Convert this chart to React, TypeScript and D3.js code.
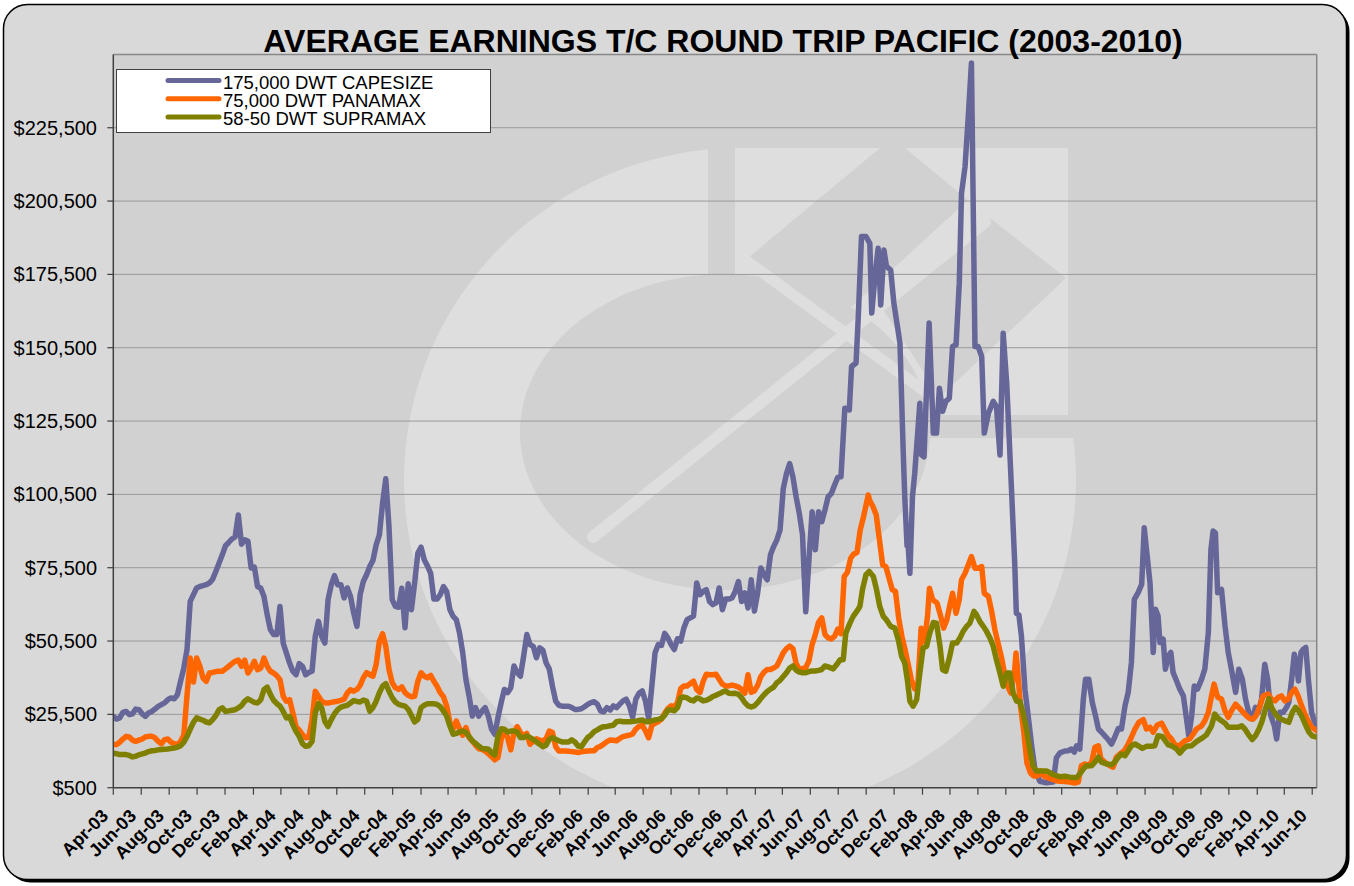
import React from "react";
import * as d3 from "d3";

const TITLE = "AVERAGE EARNINGS T/C ROUND TRIP PACIFIC (2003-2010)";
const SERIES_NAMES = ["175,000 DWT CAPESIZE", "75,000 DWT PANAMAX", "58-50 DWT SUPRAMAX"];
const SERIES_COLORS = ["#666699", "#FF6600", "#808000"];
const START_DATE = "2003-04-01";
const END_WEEK = 375.4;
const X_TICK_LABELS = ["Apr-03","Jun-03","Aug-03","Oct-03","Dec-03","Feb-04","Apr-04","Jun-04","Aug-04","Oct-04","Dec-04","Feb-05","Apr-05","Jun-05","Aug-05","Oct-05","Dec-05","Feb-06","Apr-06","Jun-06","Aug-06","Oct-06","Dec-06","Feb-07","Apr-07","Jun-07","Aug-07","Oct-07","Dec-07","Feb-08","Apr-08","Jun-08","Aug-08","Oct-08","Dec-08","Feb-09","Apr-09","Jun-09","Aug-09","Oct-09","Dec-09","Feb-10","Apr-10","Jun-10"];
const Y_TICKS = [500, 25500, 50500, 75500, 100500, 125500, 150500, 175500, 200500, 225500];
const Y_MIN = 500;
const Y_MAX = 250500;

// [week since START_DATE, US$ per day]
const CAPESIZE: [number, number][] = [
[0,24800],[1,23900],[2,24300],[3,26200],[4,26500],[5,25400],[6,25700],[7,27300],[8,27100],[9,25700],[10,24800],[11,26000],[12,26500],[13,27300],[14,28200],[15,28800],[16,29400],[17,30500],[18,31100],[19,30800],[20,32200],[21,36800],[22,41300],[23,47600],[24,64000],[25,66300],[26,68600],[27,69100],[28,69400],[29,69700],[30,70300],[31,71600],[32,74300],[33,77100],[34,79900],[35,83000],[36,84100],[37,85300],[38,86000],[39,93500],[40,83500],[41,85000],[42,84500],[43,75400],[44,75700],[45,69100],[46,68500],[47,65700],[48,59500],[49,54400],[50,52700],[51,52700],[52,62300],[53,49800],[54,46400],[55,43000],[56,40200],[57,39000],[58,42800],[59,41900],[60,39000],[61,39800],[62,40200],[63,52100],[64,57200],[65,52100],[66,49800],[67,64600],[68,69700],[69,72800],[70,69700],[71,69700],[72,65200],[73,68600],[74,65700],[75,60000],
[76,55500],[77,66300],[78,70800],[79,73100],[80,75900],[81,78000],[82,83300],[83,86700],[84,97400],[85,105800],[86,89500],[87,64600],[88,62300],[89,62000],[90,68500],[91,55000],[92,70000],[93,61200],[94,70300],[95,80400],[96,82500],[97,78200],[98,76100],[99,73600],[100,64800],[101,64800],[102,66300],[103,69100],[104,67400],[105,61200],[106,58900],[107,57800],[108,53300],[109,46500],[110,37400],[111,31700],[112,24900],[113,27800],[114,24900],[115,26600],[116,27800],[117,24900],[118,20400],[119,18700],[120,24400],[121,29500],[122,34000],[123,32900],[124,34600],[125,42000],[126,39700],[127,38500],[128,45300],[129,52700],[130,49300],[131,48700],[132,44800],[133,48200],[134,47400],[135,43100],[136,41000],[137,35100],[138,30000],[139,28600],[140,28300],[141,28300],[142,28300],[143,27800],[144,27200],[145,27200],[146,27400],[147,28100],[148,28900],
[149,29500],[150,29800],[151,29000],[152,26700],[153,26400],[154,27800],[155,27000],[156,28400],[157,27800],[158,29000],[159,30100],[160,30700],[161,28400],[162,24500],[163,30700],[164,32700],[165,33500],[166,30100],[167,24000],[168,35200],[169,46500],[170,49300],[171,49000],[172,53100],[173,51600],[174,49300],[175,47600],[176,51300],[177,50500],[178,55000],[179,57800],[180,58400],[181,59000],[182,70300],[183,66300],[184,67400],[185,68000],[186,64000],[187,62900],[188,63500],[189,68600],[190,61200],[191,64800],[192,64800],[193,65200],[194,67400],[195,70800],[196,64000],[197,66900],[198,61800],[199,71400],[200,60700],[201,66900],[202,75400],[203,73100],[204,71400],[205,79900],[206,82700],[207,85000],[208,88400],[209,102500],[210,107600],[211,111000],[212,106500],[213,99700],[214,94000],[215,86700],[216,60500],[217,78200],[218,94600],[219,81600],[220,94600],[221,91200],[222,95200],[223,99700],
[224,100800],[225,103700],[226,106300],[227,106500],[228.2,129900],[229.6,129300],[230.3,144100],[231.7,145300],[232.4,161100],[233.4,188400],[234.8,188400],[236.0,186100],[236.6,162300],[237.6,174800],[238.6,184400],[239.4,165100],[240.4,183800],[241.2,178200],[242.5,177000],[243.5,165700],[245.4,152100],[246.4,115600],[246.9,99700],[247.6,83000],[247.9,84000],[248.5,73600],[249.3,99700],[250.0,107600],[251.6,131600],[252.1,114000],[252.9,113300],[254.5,158900],[255.8,121400],[256.8,121400],[257.7,136700],[258.7,128800],[259.7,132200],[260.8,133300],[261.8,150900],[262.9,151500],[263.9,172500],[264.6,203100],[265.7,212200],[266.7,229200],[267.7,247600],[268.8,150900],[269.8,150900],[270.9,147500],[271.7,121400],[273.0,128200],[274.5,132200],[275.5,130500],[276.6,113900],[277.6,155400],[278.7,138400],[280.2,102000],[281.2,77000],[281.7,60000],[282.5,59400],[283.3,52100],[284.4,33900],[285.4,24900],[286.5,14700],[287.5,6700],[289.0,2700],[291.1,2200],[293.2,2400],[294.2,10700],[295.3,12400],[296.8,13000],[297.9,13100],[298.9,13700],[299.8,12600],[300.5,14800],[301.5,13700],[302.6,30700],[303.3,37500],[304.3,37500],[305.4,29600],[306.4,25000],[307.3,20500],[308.3,19400],[309.3,18200],[310.2,17100],[311.4,15400],[312.4,17700],[313.5,20700],[314.5,20500],[315.6,28400],[316.6,33000],[317.6,43200],[318.5,64700],[319.7,67000],[320.8,69800],[321.6,89100],[322.3,81700],[323.4,70400],[324.4,46600],[325.1,61300],[325.9,59100],[326.5,50000],[327.5,51100],[328.2,40900],[329.1,45400],[329.9,46600],[330.6,39800],[331.7,36900],[332.7,34100],[333.8,31800],[334.8,23900],[335.5,18200],[336.4,25000],[337.2,35200],[338.2,34100],[339.5,37500],[340.5,40900],[341.6,53400],[342.4,81700],[343.1,88000],[343.8,87400],[344.5,67000],[345.7,68100],[346.8,55700],[347.8,46600],[348.8,40900],[350.1,33000],[351.1,40900],[352.2,37500],[353.2,30700],[354.2,26200],[355.3,23900],[356.3,27900],[357.2,26200],[358.2,30700],[359.2,42600],[360.1,37500],[361.1,25000],[362.2,21600],[362.9,17100],[363.9,26200],[365.0,26200],[366.0,27900],[366.7,29600],[367.6,37500],[368.4,46000],[369.1,43200],[369.7,36900],[370.5,46600],[371.2,47700],[372.0,48300],[372.8,37500],[373.8,26200],[374.6,23300],[375.4,21600]
];

const PANAMAX: [number, number][] = [
[0,15200],[1,15200],[2,16000],[3,17100],[4,18000],[5,17800],[6,16700],[7,16300],[8,16700],[9,17100],[10,17800],[11,18000],[12,18000],[13,17500],[14,16300],[15,15500],[16,16900],[17,17100],[18,16000],[19,15500],[20,15200],[21,16300],[22,18500],[23,32000],[24,44700],[25,36500],[26,44700],[27,41900],[28,37900],[29,36800],[30,39600],[31,39800],[32,40100],[33,40200],[34,40200],[35,41000],[36,41900],[37,42800],[38,43600],[39,44000],[40,41900],[41,44000],[42,39600],[43,41300],[44,43600],[45,40700],[46,41300],[47,44700],[48,41900],[49,40200],[50,39600],[51,38700],[52,37300],[53,31700],[54,30000],[55,30500],[56,26000],[57,21400],[58,20100],[59,18600],[60,17500],[61,17700],[62,23700],[63,33400],[64,31700],[65,30000],[66,29400],[67,29400],[68,29600],[69,29800],[70,30000],[71,30300],[72,30700],[73,32800],[74,33900],[75,33400],
[76,34000],[77,35400],[78,38000],[79,39700],[80,39100],[81,38500],[82,42500],[83,50400],[84,53000],[85,48700],[86,40800],[87,36300],[88,34600],[89,34000],[90,34900],[91,32900],[92,32000],[93,31500],[94,31700],[95,36800],[96,39700],[97,38500],[98,38000],[99,38800],[100,36800],[101,35100],[102,32900],[103,31500],[104,28300],[105,22700],[106,20600],[107,23200],[108,20600],[109,18400],[110,21000],[111,17600],[112,16400],[113,15000],[114,13800],[115,13600],[116,13000],[117,12100],[118,11100],[119,10000],[120,10800],[121,17000],[122,20200],[123,17600],[124,13400],[125,19300],[126,21300],[127,19300],[128,18100],[129,19000],[130,15300],[131,16400],[132,17200],[133,16700],[134,16400],[135,17200],[136,19800],[137,19300],[138,14500],[139,13000],[140,13000],[141,13000],[142,12900],[143,12800],[144,12700],[145,12500],[146,12700],[147,12900],[148,13000],
[149,13100],[150,13100],[151,14200],[152,14600],[153,15400],[154,16200],[155,16800],[156,16700],[157,16500],[158,17300],[159,17900],[160,18200],[161,18400],[162,18800],[163,20500],[164,21400],[165,21800],[166,19900],[167,17500],[168,21800],[169,22500],[170,23000],[171,23900],[172,25900],[173,27500],[174,28400],[175,28100],[176,29500],[177,34300],[178,35200],[179,35200],[180,36000],[181,36800],[182,34000],[183,32900],[184,36700],[185,39200],[186,39000],[187,39000],[188,39200],[189,37500],[190,35800],[191,35200],[192,35200],[193,35500],[194,35200],[195,34800],[196,34000],[197,32700],[198,39000],[199,33000],[200,33500],[201,35400],[202,38400],[203,39900],[204,40800],[205,40800],[206,41300],[207,42000],[208,44200],[209,46500],[210,47900],[211,48800],[212,47900],[213,42900],[214,40800],[215,41100],[216,41500],[217,43700],[218,49300],[219,52700],[220,56900],[221,58400],[222,52700],[223,51600],
[224,51200],[225,52100],[226,54600],[227,53000],[228,72500],[229,73900],[230,78700],[231,80200],[232,80700],[233,88400],[234,92700],[235.5,100300],[236,98300],[237,96300],[238,93500],[239,85000],[240,76500],[241,75900],[242,71900],[243,68000],[244,67400],[245,58300],[246,52100],[247,47500],[248,42400],[249,37100],[250,34200],[251,35600],[252,54900],[253,50400],[254,58900],[254.6,68500],[255.6,64600],[257,63400],[258,59400],[259,54900],[260,57700],[261,62900],[261.8,66800],[262.9,60000],[263.9,64600],[264.6,71400],[265.7,73600],[267,77300],[267.7,79300],[268.8,75300],[269.8,75300],[270.9,75900],[271.7,66800],[273,65700],[274,60600],[275,54400],[276,49800],[277,45300],[278,39600],[279,35100],[280,32800],[281.2,40700],[281.6,46400],[282.1,40700],[283,28300],[284,19800],[285,9000],[286.1,5600],[287.1,4500],[288.2,4500],[289.2,6200],[290.2,4500],[292.3,3600],[294.4,2800],[296.8,2600],[298.4,2400],[299.9,2100],[301.0,2400],[302.0,8000],[303.1,8600],[304.1,8000],[305.2,9200],[306.2,14300],[307.3,14800],[308.1,10300],[309.3,9200],[310.9,8000],[311.9,7500],[312.9,10900],[314.0,12000],[315.4,13100],[316.6,15400],[317.6,17700],[318.7,20500],[319.9,22800],[321.3,23700],[322.3,20500],[323.4,21100],[324.4,19400],[325.7,21900],[327.0,22500],[328.0,20500],[329.1,18200],[330.1,17100],[331.2,15100],[332.2,14600],[333.2,15400],[334.3,16500],[335.8,17100],[336.9,18800],[337.9,20500],[339.5,21600],[340.5,23300],[341.6,26200],[342.6,31800],[343.4,35800],[344.5,31300],[345.7,30700],[346.8,26700],[347.8,24500],[348.8,26700],[350.1,29000],[351.1,27900],[352.5,26200],[353.5,25000],[354.5,24100],[355.6,23900],[356.6,25300],[357.7,28400],[358.7,31800],[360.3,32400],[361.3,30700],[362.4,30100],[363.4,31300],[364.4,31800],[365.5,30100],[366.5,30700],[367.6,33000],[368.6,34100],[369.6,31800],[370.7,28400],[371.7,25600],[372.7,23300],[373.8,21100],[374.8,20500],[375.4,19900]
];

const SUPRAMAX: [number, number][] = [
[0,12300],[1,12100],[2,11800],[3,11800],[4,11800],[5,11500],[6,11000],[7,11200],[8,11700],[9,12000],[10,12300],[11,12800],[12,13100],[13,13200],[14,13400],[15,13500],[16,13600],[17,13700],[18,13900],[19,14000],[20,14300],[21,14800],[22,16000],[23,18000],[24,20500],[25,22800],[26,24300],[27,23900],[28,23500],[29,22900],[30,22600],[31,23700],[32,25100],[33,27100],[34,27700],[35,26500],[36,26700],[37,26900],[38,27100],[39,27700],[40,28500],[41,30000],[42,30800],[43,30200],[44,29600],[45,29400],[46,30500],[47,33900],[48,34800],[49,32300],[50,30300],[51,29200],[52,28300],[53,26500],[54,24300],[55,24800],[56,22000],[57,19700],[58,18000],[59,15500],[60,14600],[61,14800],[62,16300],[63,26000],[64,29200],[65,27700],[66,23100],[67,21400],[68,23700],[69,25700],[70,27100],[71,28000],[72,28300],[73,28600],[74,29400],[75,30200],
[76,29900],[77,29700],[78,30400],[79,30000],[80,26600],[81,27800],[82,30000],[83,32900],[84,35100],[85,36000],[86,33400],[87,31200],[88,29700],[89,28900],[90,28600],[91,28300],[92,27200],[93,25100],[94,22900],[95,23800],[96,27800],[97,28600],[98,29100],[99,29100],[100,29100],[101,28900],[102,28100],[103,26600],[104,24900],[105,21500],[106,18700],[107,19000],[108,19500],[109,19800],[110,19300],[111,17900],[112,16500],[113,15600],[114,14700],[115,13900],[116,13800],[117,13600],[118,12500],[119,11600],[120,18100],[121,20600],[122,20400],[123,19500],[124,19800],[125,19800],[126,19500],[127,17600],[128,17600],[129,18100],[130,17600],[131,17000],[132,16100],[133,15300],[134,14500],[135,15000],[136,17000],[137,17600],[138,17000],[139,16500],[140,16100],[141,16100],[142,16100],[143,16800],[144,16100],[145,14700],[146,14500],[147,16100],[148,17600],
[149,18400],[150,19600],[151,20200],[152,20900],[153,21300],[154,21400],[155,21600],[156,21800],[157,23000],[158,23200],[159,23000],[160,23000],[161,23000],[162,23100],[163,23200],[164,23400],[165,23600],[166,23000],[167,23000],[168,23300],[169,23600],[170,23800],[171,24100],[172,25200],[173,27000],[174,27000],[175,26700],[176,27800],[177,31200],[178,31400],[179,31100],[180,30400],[181,30100],[182,31100],[183,30800],[184,30100],[185,30300],[186,30800],[187,31600],[188,32000],[189,32500],[190,33100],[191,33500],[192,32700],[193,32600],[194,32700],[195,32300],[196,31200],[197,29500],[198,28400],[199,28000],[200,28400],[201,29500],[202,30900],[203,32200],[204,33300],[205,34100],[206,34800],[207,36300],[208,37100],[209,38400],[210,39700],[211,41300],[212,42000],[213,40600],[214,39900],[215,39700],[216,39700],[217,40100],[218,40300],[219,40300],[220,40500],[221,40800],[222,42000],[223,41700],
[224.6,41000],[225.6,42400],[226.7,44100],[227.7,44100],[228.5,53200],[229.8,56600],[230.8,58900],[231.9,60600],[232.9,62300],[233.7,68000],[234.8,73100],[235.8,74200],[237.1,72500],[238.1,68000],[239.1,62300],[240.2,58900],[241.2,57700],[242.5,55500],[243.8,54900],[244.9,50900],[245.9,45300],[246.9,43000],[247.7,37300],[248.5,30000],[249.5,28300],[250.6,30500],[251.6,39600],[252.6,48100],[253.7,48700],[254.7,53200],[255.8,56800],[256.8,56600],[257.9,48700],[258.7,40700],[259.7,40200],[260.8,44700],[261.8,49800],[263.1,49800],[264.1,51500],[265.1,53800],[266.2,55500],[267.2,56600],[268.5,60600],[269.3,59400],[270.3,57200],[271.4,55500],[272.4,53800],[273.5,51500],[274.5,48700],[275.5,44100],[276.6,39600],[277.6,35100],[278.7,39600],[279.7,39600],[280.7,32800],[281.8,30000],[282.8,30000],[283.8,26000],[284.9,20300],[285.9,13500],[286.9,7900],[288.0,6200],[289.6,6200],[291.1,6200],[292.2,5600],[293.2,5000],[295.3,4200],[296.8,4400],[298.4,4100],[300.5,3900],[301.5,5200],[302.6,6900],[303.6,8000],[305.2,8000],[306.2,9200],[307.3,10900],[308.3,9200],[309.8,8600],[311.4,8300],[312.4,9200],[313.5,10900],[314.5,12000],[315.6,11400],[316.6,13100],[317.6,14800],[318.7,15400],[319.7,14800],[321.0,13900],[322.3,14600],[323.9,14600],[324.9,14800],[325.9,18200],[327.2,18000],[328.2,16500],[329.1,15100],[330.1,14800],[331.7,13700],[332.7,12300],[333.8,13700],[334.8,14600],[336.4,14800],[337.9,16200],[339.5,17300],[341.0,18500],[342.6,21600],[343.6,25600],[344.7,24100],[345.7,23300],[346.8,22500],[347.8,21100],[349.4,21100],[350.9,21100],[352.0,21600],[353.0,20500],[354.0,18800],[355.3,16900],[356.3,18200],[357.4,20500],[358.4,23300],[359.4,27300],[360.5,30900],[361.3,27900],[362.9,25000],[364.2,23900],[365.5,23300],[366.7,22800],[367.8,26200],[368.8,27900],[369.8,26700],[370.9,24500],[371.9,21900],[373.0,19400],[374.0,18200],[375.4,17700]
];

const SERIES = [CAPESIZE, PANAMAX, SUPRAMAX];

const FONT = "'Liberation Sans', Arial, Helvetica, sans-serif";
const PLOT_BG = "#d1d1d1";
const MARK_BG = "#dedede";

export default function App() {
  const W = 1354, H = 886;
  const P = { left: 113.3, right: 1316.7, top: 54.4, bottom: 787.7 };
  const start = d3.timeParse("%Y-%m-%d")(START_DATE) as Date;
  const toDate = (w: number) => new Date(start.getTime() + w * 7 * 864e5);
  const x = d3.scaleTime().domain([start, toDate(END_WEEK)]).range([P.left, P.right]);
  const y = d3.scaleLinear().domain([Y_MIN, Y_MAX]).range([P.bottom, P.top]);
  const parseTick = d3.timeParse("%b-%y");
  const fmt = d3.format("$,");
  const line = d3
    .line<[number, number]>()
    .x((d) => x(toDate(d[0])))
    .y((d) => y(d[1]));

  const xTicks = X_TICK_LABELS.map((l) => ({ label: l, px: x(parseTick(l) as Date) }));

  return (
    <svg
      width={W}
      height={H}
      style={{ position: "absolute", left: 0, top: 0, background: "#ffffff" }}
      fontFamily={FONT}
    >
      <defs>
        <clipPath id="plotClip">
          <rect x={P.left} y={P.top} width={P.right - P.left} height={P.bottom - P.top} />
        </clipPath>
        <clipPath id="ringClip">
          <polygon points="0,0 708,0 708,438 1100,438 1100,0 1354,0 1354,886 0,886" />
        </clipPath>
      </defs>

      {/* frame with shadow */}
      <rect x={6.5} y={7.5} width={1343} height={875} rx={24} fill="#000" />
      <rect x={3.5} y={4.5} width={1343} height={875} rx={24} fill="#d9d9d9" stroke="#000" strokeWidth={1.5} />

      {/* plot area */}
      <rect x={P.left} y={P.top} width={P.right - P.left} height={P.bottom - P.top} fill={PLOT_BG} />

      {/* watermark logo */}
      <g clipPath="url(#plotClip)">
        <g clipPath="url(#ringClip)">
          <ellipse cx={740} cy={480} rx={336} ry={332} fill={MARK_BG} />
        </g>
        <rect x={735} y={148} width={333} height={267} fill={MARK_BG} />
        <ellipse cx={725} cy={432} rx={205} ry={158} fill={PLOT_BG} />
        <polygon points="880,148 905,148 968,200 835,322 748,258" fill={PLOT_BG} />
        <polygon points="990,218 1066,278 940,397 880,305" fill={PLOT_BG} />
        <line x1={593} y1={537} x2={985} y2={222} stroke={MARK_BG} strokeWidth={12} strokeLinecap="round" />
        <line x1={740} y1={256} x2={930} y2={395} stroke={MARK_BG} strokeWidth={11} />
      </g>

      {/* gridlines */}
      {Y_TICKS.filter((t) => t > Y_MIN).map((t) => (
        <line key={t} x1={P.left} x2={P.right} y1={y(t)} y2={y(t)} stroke="#999999" strokeWidth={1} />
      ))}
      {/* plot border top/right */}
      <line x1={P.left} x2={P.right} y1={P.top} y2={P.top} stroke="#888888" strokeWidth={1.5} />
      <line x1={P.right} x2={P.right} y1={P.top} y2={P.bottom} stroke="#888888" strokeWidth={1.5} />

      {/* series */}
      <g clipPath="url(#plotClip)">
        {SERIES.map((s, i) => (
          <path
            key={i}
            d={line(s) || ""}
            fill="none"
            stroke={SERIES_COLORS[i]}
            strokeWidth={5.5}
            strokeLinejoin="round"
            strokeLinecap="round"
          />
        ))}
      </g>

      {/* axes */}
      <line x1={P.left} x2={P.left} y1={P.top} y2={P.bottom} stroke="#404040" strokeWidth={1.5} />
      <line x1={P.left} x2={P.right} y1={P.bottom} y2={P.bottom} stroke="#404040" strokeWidth={1.5} />
      {Y_TICKS.map((t) => (
        <g key={t}>
          <line x1={P.left - 6} x2={P.left} y1={y(t)} y2={y(t)} stroke="#404040" strokeWidth={1.2} />
          <text x={97} y={y(t)} dy="0.35em" textAnchor="end" fontSize={20} fill="#000">
            {fmt(t)}
          </text>
        </g>
      ))}
      {xTicks.map((t) => (
        <g key={t.label}>
          <line x1={t.px} x2={t.px} y1={P.bottom} y2={P.bottom + 7} stroke="#404040" strokeWidth={1.2} />
          <text
            transform={`translate(${t.px - 4},${817}) rotate(-45)`}
            textAnchor="end"
            fontSize={18}
            fontWeight="bold"
            fill="#000"
          >
            {t.label}
          </text>
        </g>
      ))}

      {/* title */}
      <text x={723} y={52} textAnchor="middle" fontSize={32} fontWeight="bold" fill="#000">
        {TITLE}
      </text>

      {/* legend */}
      <rect x={116.5} y={69.5} width={374} height={63} fill="#ffffff" stroke="#404040" strokeWidth={1} />
      {SERIES_NAMES.map((n, i) => (
        <g key={n}>
          <line
            x1={168}
            x2={219}
            y1={80.5 + i * 18.2}
            y2={80.5 + i * 18.2}
            stroke={SERIES_COLORS[i]}
            strokeWidth={5}
            strokeLinecap="round"
          />
          <text x={223} y={88.5 + i * 18.2} fontSize={18.5} fill="#000">
            {n}
          </text>
        </g>
      ))}
    </svg>
  );
}
